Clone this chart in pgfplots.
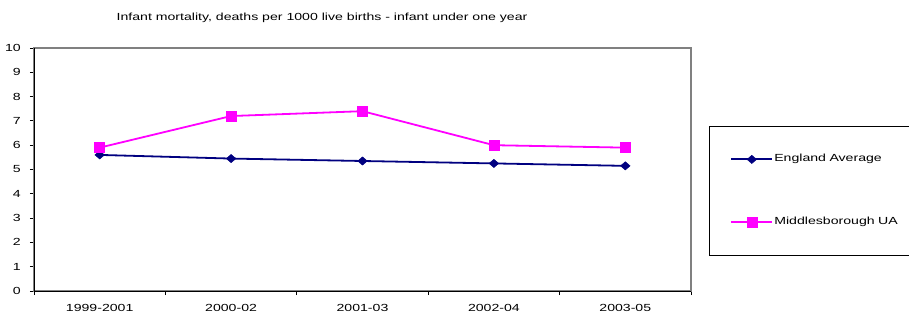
\documentclass[border=0pt]{standalone}
\usepackage{fontspec}
\setmainfont{Liberation Sans}[FakeStretch=1.37]
\usepackage{pgfplots}
\pgfplotsset{compat=1.18}
\definecolor{navyc}{RGB}{0,0,128}
\definecolor{magc}{RGB}{255,0,255}
\definecolor{bordergray}{RGB}{128,128,128}
\begin{document}
\fontsize{10.3bp}{12bp}\selectfont
\begin{tikzpicture}
\useasboundingbox (0,0) rectangle (909bp,316bp);
\node[anchor=base, inner sep=0pt] at (322bp,295bp) {Infant mortality, deaths per 1000 live births - infant under one year};
\begin{axis}[
  at={(34bp,25bp)}, anchor=south west,
  scale only axis, width=657bp, height=243bp,
  xmin=-0.5, xmax=4.5, ymin=0, ymax=10,
  xtick={0,1,2,3,4},
  xticklabels={1999-2001,2000-02,2001-03,2002-04,2003-05},
  minor xtick={-0.5,0.5,1.5,2.5,3.5,4.5},
  ytick={0,1,...,10},
  tick pos=left, tick align=outside,
  major tick length=4bp, minor tick length=4bp,
  major x tick style={draw=none},
  minor x tick style={black, line width=0.8bp},
  major y tick style={black, line width=0.8bp},
  axis line style={draw=bordergray, line width=1.2bp},
  /pgf/number format/assume math mode=true,
  ticklabel style={font=\fontsize{10.3bp}{12bp}\selectfont},
  xticklabel style={anchor=base, inner sep=0pt, yshift=-16bp},
  yticklabel style={anchor=east, inner sep=0pt, xshift=-9bp},
  clip=false,
  legend cell align=left,
  legend image code/.code={%
    \path (-21bp,0bp);
    \draw[mark repeat=2,mark phase=2,#1,line width=2bp] plot coordinates {(0bp,0bp) (20.5bp,0bp) (41bp,0bp)};
  },
  legend style={at={(1.0274,0.6790)}, anchor=north west, draw=black, line width=0.8bp,
    inner xsep=0pt, inner ysep=26bp, row sep=49bp, column sep=0bp,
    nodes={text height=7.5bp, text depth=2.5bp, inner ysep=2bp, inner xsep=1bp,
      text width=140bp, align=left, font=\fontsize{10.3bp}{12bp}\selectfont}},
]
\addplot[navyc, line width=1.8bp, mark=diamond*, mark size=4.1bp,
  mark options={solid, line width=0.5bp, xscale=1.55}]
  coordinates {(0,5.6) (1,5.45) (2,5.35) (3,5.25) (4,5.15)};
\addlegendentry{England Average}
\addplot[magc, line width=1.8bp, mark=square*, mark size=5.0bp,
  mark options={solid, line width=0.5bp}]
  coordinates {(0,5.9) (1,7.2) (2,7.4) (3,6.0) (4,5.9)};
\addlegendentry{Middlesborough UA}
\draw[black, line width=0.8bp] (rel axis cs:0,1) -- (rel axis cs:0,0) -- (rel axis cs:1,0);
\end{axis}
\end{tikzpicture}
\end{document}
